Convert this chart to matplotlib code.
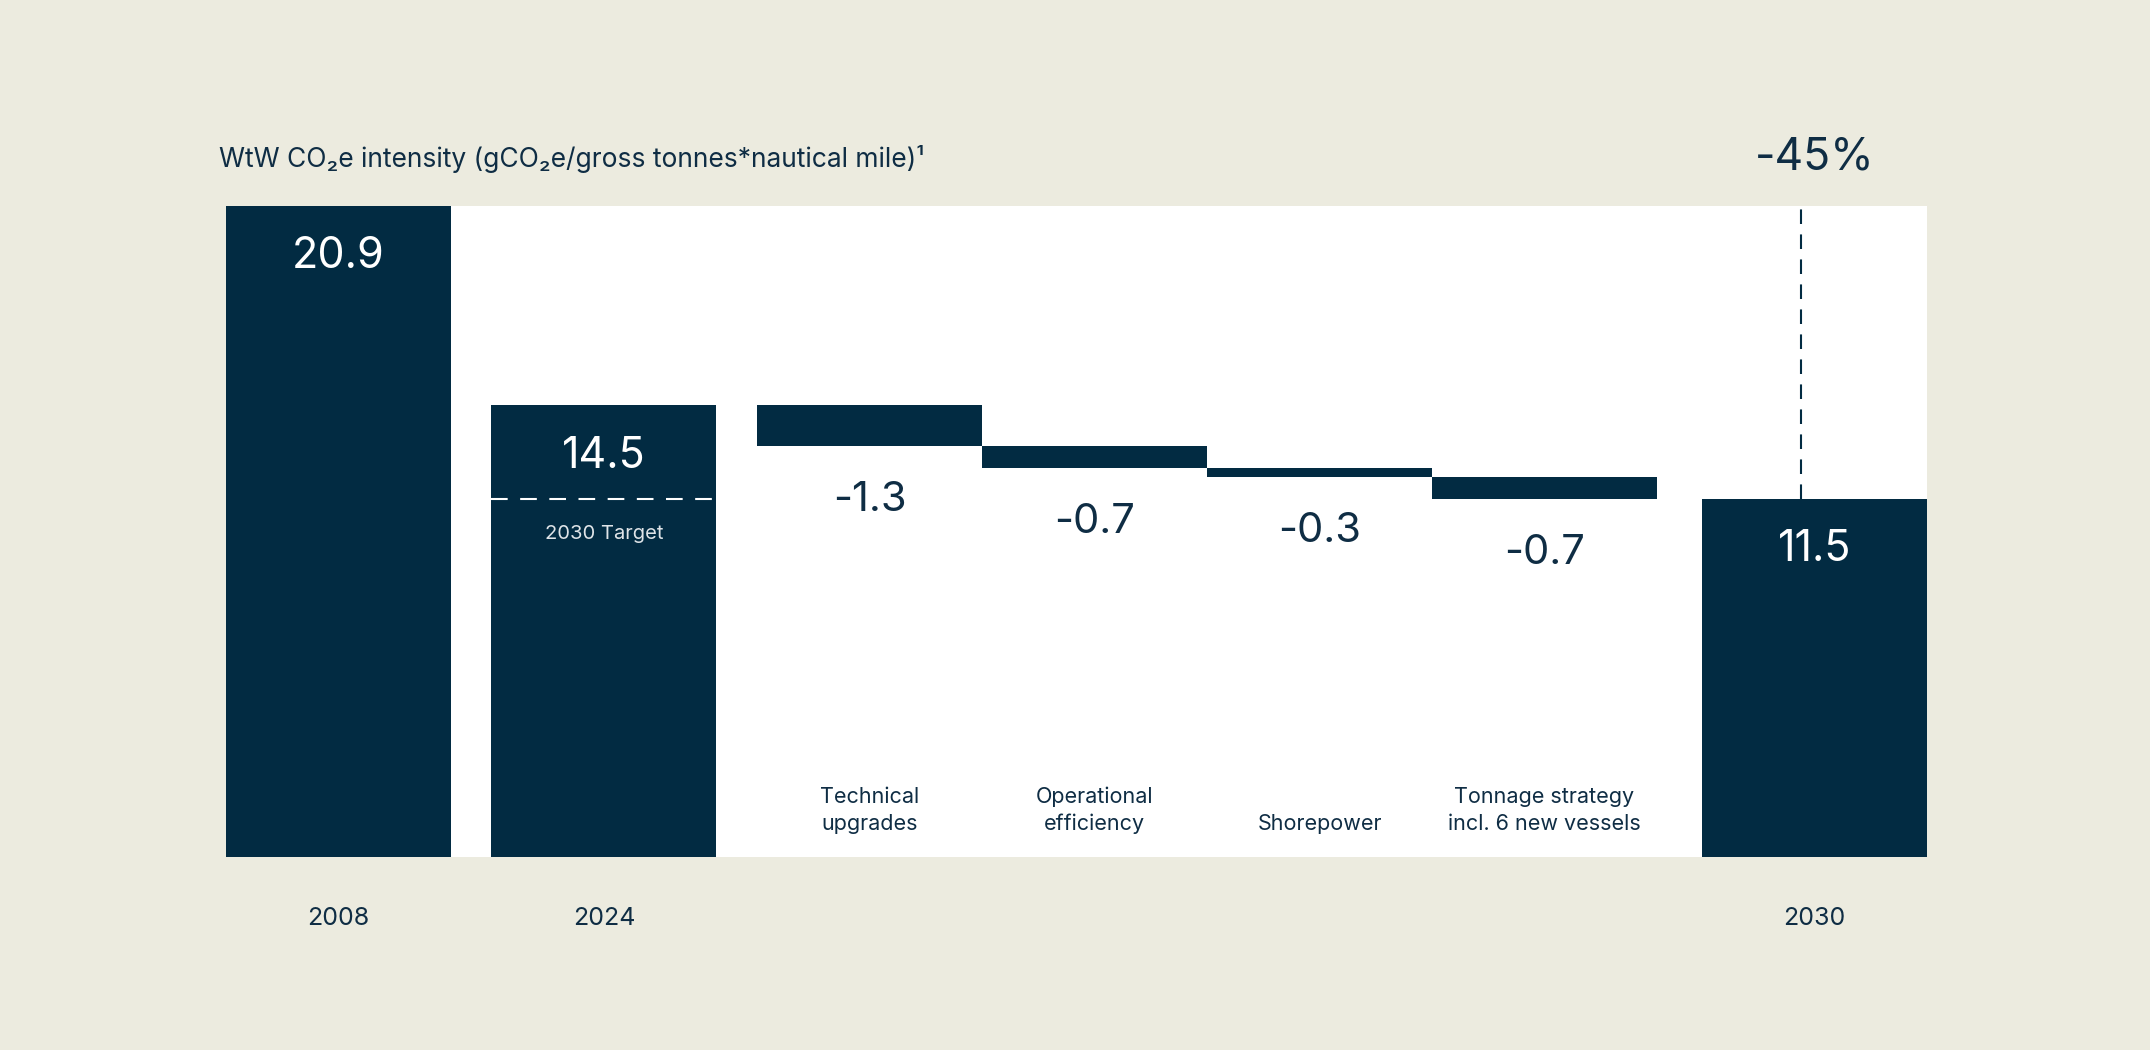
import numpy as np
import matplotlib.pyplot as plt
from matplotlib import transforms

plt.rcParams['font.family'] = ['Inter', 'DejaVu Sans']

# data
years = ['2008', '2024', '2030']
start_values = [20.9, 14.5]
steps = ['Technical\nupgrades', 'Operational\nefficiency', 'Shorepower',
         'Tonnage strategy\nincl. 6 new vessels']
deltas = [-1.3, -0.7, -0.3, -0.7]
end_value = 11.5
reduction = '-45%'

NAVY = '#022b42'
TEXT = '#0f2d44'
BG = '#ecebdf'

fig = plt.figure(figsize=(21.5, 10.5), dpi=100, facecolor=BG)
ax = fig.add_axes([0.1051, 0.1838, 0.7912, 0.62])
ax.set_facecolor('white')

left = [0, 1.18, 2.36, 3.36, 4.36, 5.36, 6.56]
w = 1.0
centers = [l + w / 2 for l in left]

# full bars
ax.bar(left[0], start_values[0], width=w, align='edge', color=NAVY)
ax.bar(left[1], start_values[1], width=w, align='edge', color=NAVY)
ax.bar(left[6], end_value, width=w, align='edge', color=NAVY)

# waterfall steps
level = start_values[1]
for i, d in enumerate(deltas):
    x = left[2 + i]
    ax.bar(x, d, bottom=level, width=w, align='edge', color=NAVY)
    ax.annotate(f'{d:.1f}', (centers[2 + i], level + d), xytext=(0, -39),
                textcoords='offset points', ha='center', va='center',
                fontsize=30, color=TEXT)
    level += d

# value labels inside bars
for c, v in zip([centers[0], centers[1], centers[6]],
                [start_values[0], start_values[1], end_value]):
    ax.annotate(f'{v:.1f}', (c, v), xytext=(0, -36.5), textcoords='offset points',
                ha='center', va='center', fontsize=31, color='white')

# 2030 target line in 2024 bar
ax.plot([left[1], left[1] + w], [end_value, end_value], color='white',
        lw=1.5, dashes=(8, 6))
ax.annotate('2030 Target', (centers[1], end_value), xytext=(0, -25),
            textcoords='offset points', ha='center', va='center',
            fontsize=14.5, color='#dfe4e8')

# vertical dashed line above 2030 bar
ax.plot([centers[6] - 0.062] * 2, [end_value, start_values[0]], color=NAVY,
        lw=1.5, dashes=(7, 5), clip_on=False)

ax.set_xlim(0, 7.56)
ax.set_ylim(0, start_values[0])
ax.set_xticks([])
ax.set_yticks([])
for s in ax.spines.values():
    s.set_visible(False)

# category labels
for i, s in enumerate(steps):
    ax.text(centers[2 + i], 0.75, s, ha='center', va='bottom', fontsize=15.5,
            color=TEXT, linespacing=1.4)

trans = transforms.blended_transform_factory(ax.transData, ax.transAxes)
for c, y in zip([centers[0], centers[1], centers[6]], years):
    ax.text(c, -0.095, y, transform=trans, ha='center', va='center',
            fontsize=18, color=TEXT)

ax.text(centers[6], 1.075, reduction, transform=trans, ha='center', va='center',
        fontsize=32, color=TEXT)

fig.text(219 / 2150, 1 - 159 / 1050,
         'WtW CO\u2082e intensity (gCO\u2082e/gross tonnes*nautical mile)\u00b9',
         ha='left', va='center', fontsize=19, color=TEXT)

plt.savefig('out.png', dpi=100, facecolor=BG)
